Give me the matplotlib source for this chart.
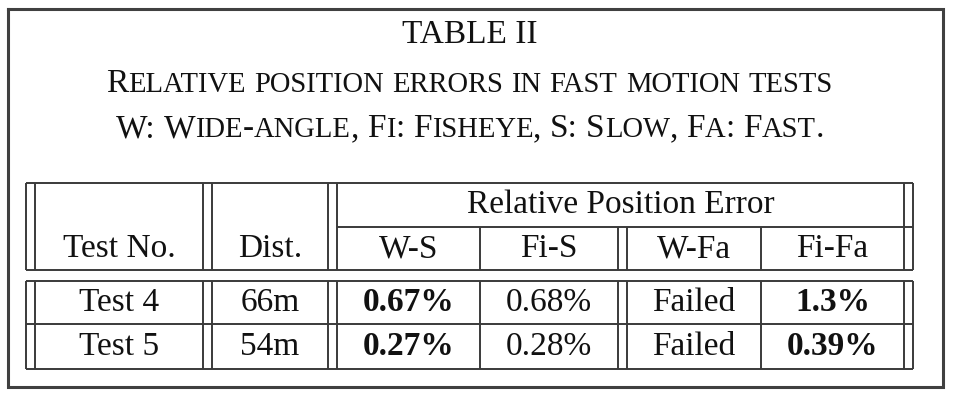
import matplotlib
matplotlib.use('Agg')
import matplotlib.pyplot as plt

# ── table content ──────────────────────────────────────────────────────────
table_no = 'TABLE II'
caption_1 = 'Relative position errors in fast motion tests'
caption_2 = 'W: Wide-angle, Fi: Fisheye, S: Slow, Fa: Fast.'
left_headers = ['Test No.', 'Dist.']
group_header = 'Relative Position Error'
sub_headers = ['W-S', 'Fi-S', 'W-Fa', 'Fi-Fa']
tests = ['Test 4', 'Test 5']
dists = ['66m', '54m']
errors = [['0.67%', '0.68%', 'Failed', '1.3%'],
          ['0.27%', '0.28%', 'Failed', '0.39%']]
best = [[True, False, False, True],
        [True, False, False, True]]

# ── layout (pixels) ────────────────────────────────────────────────────────
W, H = 962, 401
SERIF = 'Liberation Serif'
INK = '#111111'
LINE = '#3a3a3a'
CAP_FS = 24
CELL_FS = 24

# column borders: (x, double?)  double lines are 9 px apart
col_x = [26, 203, 328, 480, 618, 761, 904]
col_double = [True, True, True, False, True, False, True]
DBL = 9
y_top, y_mid, y_head = 183, 227, 270
y_body, y_sep, y_bot = 281, 324, 369

fig = plt.figure(figsize=(W / 100, H / 100), dpi=100)
fig.patch.set_facecolor('white')
ax = fig.add_axes([0, 0, 1, 1])
ax.set_xlim(0, W)
ax.set_ylim(H, 0)
ax.axis('off')
fig.canvas.draw()
renderer = fig.canvas.get_renderer()

# outer frame
ax.plot([8, 943, 943, 8, 8], [9, 9, 387, 387, 9], color='#404040', lw=2.2,
        solid_joinstyle='miter')


def text_width(s, fs, weight='normal'):
    t = ax.text(0, 0, s, fontsize=fs, family=SERIF, weight=weight)
    w = t.get_window_extent(renderer).width
    t.remove()
    return w


def small_caps(s, xc, yb, fs, ratio=0.86):
    """draw s centred at xc with fake small caps"""
    runs = []
    for word in s.split(' '):
        parts = []
        for ch in word:
            small = ch.islower()
            size = fs * ratio if small else fs
            if parts and parts[-1][1] == size:
                parts[-1][0] += ch.upper()
            else:
                parts.append([ch.upper(), size])
        runs.append(parts)
    space = text_width('x x', fs) - text_width('xx', fs)
    widths = [[text_width(p, sz) for p, sz in parts] for parts in runs]
    total = sum(sum(w) for w in widths) + space * (len(runs) - 1)
    x = xc - total / 2
    for parts, ws in zip(runs, widths):
        for (p, sz), w in zip(parts, ws):
            ax.text(x, yb, p, fontsize=sz, family=SERIF, color=INK,
                    va='baseline', ha='left')
            x += w
        x += space


ax.text(470, 43, table_no, fontsize=CAP_FS, family=SERIF, color=INK,
        ha='center', va='baseline')
small_caps(caption_1, 469, 92, CAP_FS)
small_caps(caption_2, 470, 137, CAP_FS)

# ── rules ──────────────────────────────────────────────────────────────────
lw = 1.4
x_left, x_right = col_x[0], col_x[-1] + DBL


def vline(x, y0, y1):
    ax.plot([x, x], [y0, y1], color=LINE, lw=lw, solid_capstyle='butt')


def hline(x0, x1, y):
    ax.plot([x0, x1], [y, y], color=LINE, lw=lw, solid_capstyle='butt')


for y in (y_top, y_head, y_body, y_sep, y_bot):
    hline(x_left, x_right, y)
hline(col_x[2] + DBL, x_right, y_mid)

for x, dbl in zip(col_x, col_double):
    # group header spans the inner borders of the error columns
    spans = [(y_top, y_head), (y_body, y_bot)]
    for y0, y1 in spans:
        if x in col_x[3:6]:
            y0a = y_mid if y0 == y_top else y0
        else:
            y0a = y0
        if dbl:
            vline(x, y0a, y1)
            vline(x + DBL, y0a, y1)
        else:
            vline(x, y0a, y1)

# ── cells ──────────────────────────────────────────────────────────────────
lefts = [c + (DBL if d else 0) for c, d in zip(col_x, col_double)]
centers = [(lefts[i] + col_x[i + 1]) / 2 for i in range(len(col_x) - 1)]


def cell(xc, yb, s, bold=False):
    ax.text(xc, yb, s, fontsize=CELL_FS, family=SERIF, color=INK,
            ha='center', va='baseline', weight='bold' if bold else 'normal')


cell(centers[0], 257, left_headers[0])
cell(centers[1], 257, left_headers[1])
cell((lefts[2] + col_x[-1]) / 2, 213, group_header)
for j, s in enumerate(sub_headers):
    cell(centers[2 + j], 257, s)

row_base = [311, 355]
for i in range(len(tests)):
    cell(centers[0], row_base[i], tests[i])
    cell(centers[1], row_base[i], dists[i])
    for j in range(len(sub_headers)):
        cell(centers[2 + j], row_base[i], errors[i][j], best[i][j])

fig.savefig('out.png', dpi=100, facecolor='white')
